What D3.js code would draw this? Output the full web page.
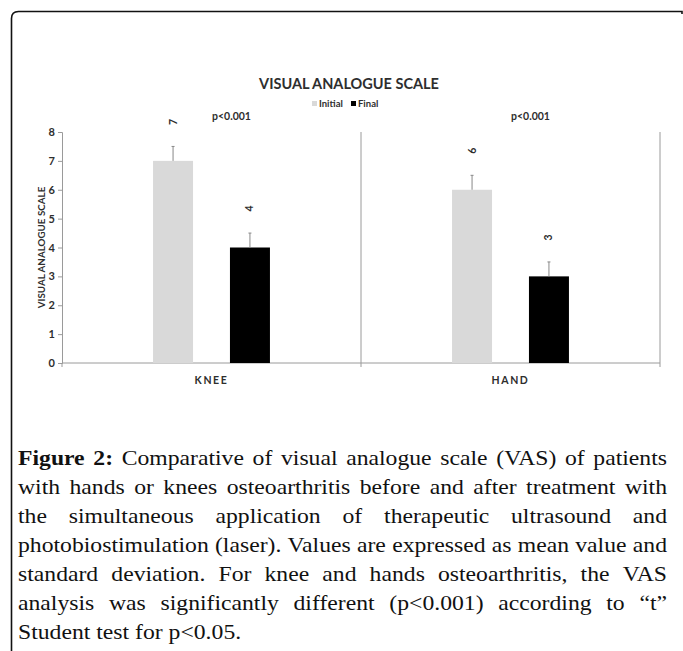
<!DOCTYPE html>
<html>
<head>
<meta charset="utf-8">
<script src="https://cdn.jsdelivr.net/npm/d3@7"></script>
<style>
  html, body { margin: 0; padding: 0; background: #fff; }
  svg { display: block; }
</style>
</head>
<body>
<svg id="chart" width="683" height="651"></svg>
<script>
// ---- data ----
const categories = ["KNEE", "HAND"];
const series = ["Initial", "Final"];
const initialValues = [7, 6];
const finalValues = [4, 3];
const initialSD = [0.5, 0.5];
const finalSD = [0.5, 0.5];
const yTicks = [0, 1, 2, 3, 4, 5, 6, 7, 8];
const pLabels = ["p<0.001", "p<0.001"];
const chartTitle = "VISUAL ANALOGUE SCALE";
const yTitle = "VISUAL ANALOGUE SCALE";
const captionLines = [
  "Comparative of visual analogue scale (VAS) of patients",
  "with hands or knees osteoarthritis before and after treatment with",
  "the simultaneous application of therapeutic ultrasound and",
  "photobiostimulation (laser). Values are expressed as mean value and",
  "standard deviation. For knee and hands osteoarthritis, the VAS",
  "analysis was significantly different (p<0.001) according to \u201ct\u201d",
  "Student test for p<0.05."
];

const svg = d3.select("#chart");
const sansFont = "Lato, 'Open Sans', sans-serif";
const textCol = "#2e2e2e";
const axisCol = "#9a9a9a";

// frame
svg.append("path")
  .attr("d", "M11.5,651 V18.5 Q11.5,11.5 18.5,11.5 H682 V14")
  .attr("fill", "none").attr("stroke", "#111").attr("stroke-width", 1.6);

// scales
const y = d3.scaleLinear().domain([0, 8]).range([363, 132]);
const x = d3.scaleBand().domain(categories).range([62, 660]);
const inner = d3.scaleBand().domain(series).range([0, x.bandwidth()])
  .paddingInner(0.48).paddingOuter(1.184);
const colors = d3.scaleOrdinal().domain(series).range(["#d9d9d9", "#000000"]);

const rows = [];
categories.forEach((c, i) => {
  rows.push({cat: c, s: "Initial", v: initialValues[i], sd: initialSD[i]});
  rows.push({cat: c, s: "Final", v: finalValues[i], sd: finalSD[i]});
});

// title
svg.append("text").attr("x", 349).attr("y", 89).attr("text-anchor", "middle")
  .attr("font-family", sansFont).attr("font-weight", "bold").attr("font-size", 14.5)
  .attr("fill", textCol).text(chartTitle);

// legend
const legend = svg.append("g").attr("font-family", sansFont).attr("font-size", 9.5)
  .attr("font-weight", "bold").attr("fill", textCol);
const legItems = [{s: "Initial", x: 312}, {s: "Final", x: 351}];
legItems.forEach(d => {
  legend.append("rect").attr("x", d.x).attr("y", 101).attr("width", 5).attr("height", 5)
    .attr("fill", colors(d.s));
  legend.append("text").attr("x", d.x + 7).attr("y", 107).text(d.s);
});

// y axis
const yAxisG = svg.append("g").attr("transform", "translate(62,0)")
  .call(d3.axisLeft(y).tickValues(yTicks).tickSize(4).tickPadding(3).tickFormat(d3.format("d")));
yAxisG.select(".domain").attr("stroke", axisCol);
yAxisG.selectAll(".tick line").attr("stroke", axisCol);
yAxisG.selectAll(".tick text").attr("font-family", sansFont).attr("font-weight", "bold")
  .attr("font-size", 11).attr("fill", textCol);

// y title
svg.append("text").attr("transform", `translate(45,${(y(0) + y(8)) / 2}) rotate(-90)`)
  .attr("text-anchor", "middle").attr("font-family", sansFont).attr("font-weight", "bold")
  .attr("font-size", 9.8).attr("fill", textCol).text(yTitle);

// x axis
const xAxisG = svg.append("g").attr("transform", `translate(0,${y(0)})`);
xAxisG.append("line").attr("x1", 62).attr("x2", 660).attr("stroke", axisCol);
const boundaries = [62].concat(categories.map(c => x(c) + x.bandwidth()));
boundaries.forEach((b, i) => {
  xAxisG.append("line").attr("x1", b).attr("x2", b).attr("y1", 0).attr("y2", 4).attr("stroke", axisCol);
  if (i > 0) {
    svg.append("line").attr("x1", b).attr("x2", b).attr("y1", y(8)).attr("y2", y(0))
      .attr("stroke", axisCol);
  }
});
categories.forEach(c => {
  svg.append("text").attr("x", x(c) + x.bandwidth() / 2).attr("y", 384)
    .attr("text-anchor", "middle").attr("font-family", sansFont).attr("font-weight", "bold")
    .attr("font-size", 10.5).attr("letter-spacing", 1.6).attr("fill", textCol).text(c);
});

// bars
svg.append("g").selectAll("rect").data(rows).join("rect")
  .attr("x", d => x(d.cat) + inner(d.s))
  .attr("y", d => y(d.v))
  .attr("width", inner.bandwidth())
  .attr("height", d => y(0) - y(d.v))
  .attr("fill", d => colors(d.s));

// error bars (upper only)
const eb = svg.append("g").attr("stroke", "#888").attr("stroke-width", 1);
rows.forEach(d => {
  const cx = x(d.cat) + inner(d.s) + inner.bandwidth() / 2;
  eb.append("line").attr("x1", cx).attr("x2", cx).attr("y1", y(d.v)).attr("y2", y(d.v + d.sd));
  eb.append("line").attr("x1", cx - 1.5).attr("x2", cx + 1.5).attr("y1", y(d.v + d.sd)).attr("y2", y(d.v + d.sd));
});

// value labels (rotated)
rows.forEach(d => {
  const cx = x(d.cat) + inner(d.s) + inner.bandwidth() / 2;
  svg.append("text").attr("transform", `translate(${cx + 3.5},${y(d.v) - 39}) rotate(-90)`)
    .attr("text-anchor", "middle").attr("font-family", sansFont).attr("font-weight", "bold")
    .attr("font-size", 10.5).attr("fill", textCol).text(d3.format("d")(d.v));
});

// p labels
categories.forEach((c, i) => {
  svg.append("text").attr("x", x(c) + x.bandwidth() / 2 + 20).attr("y", 120)
    .attr("text-anchor", "middle").attr("font-family", sansFont).attr("font-weight", "bold")
    .attr("font-size", 10.5).attr("fill", textCol).text(pLabels[i]);
});

// caption, justified
const capFont = "'Liberation Serif', 'Times New Roman', serif";
const capSize = 21;
const capLeft = 18, capRight = 667, capTop = 465, lineH = 29;
const capOuter = svg.append("g").attr("font-family", capFont).attr("font-size", capSize).attr("fill", "#111");
// measure natural width of the tightest line to get a horizontal stretch matching the original face
const probe = capOuter.append("text").attr("xml:space", "preserve").text(captionLines[3]);
const natural = probe.node().getComputedTextLength();
probe.remove();
const sx = Math.max(1, (capRight - capLeft - 3) / natural);
const cap = capOuter.append("g").attr("transform", `translate(${capLeft},0) scale(${sx},1)`);
const avail = (capRight - capLeft) / sx;
captionLines.forEach((line, li) => {
  const words = line.split(" ").map(w => ({t: w, b: false}));
  if (li === 0) words.unshift({t: "Figure", b: true}, {t: "2:", b: true});
  const yy = capTop + li * lineH;
  const nodes = words.map(w => {
    const t = cap.append("text").attr("y", yy).attr("font-weight", w.b ? "bold" : "normal").text(w.t);
    return {node: t, w: t.node().getComputedTextLength()};
  });
  const total = d3.sum(nodes, n => n.w);
  const spaceNatural = capSize * 0.25;
  const last = li === captionLines.length - 1;
  const gap = last ? spaceNatural : (avail - total) / (nodes.length - 1);
  let cx = 0;
  nodes.forEach(n => { n.node.attr("x", cx); cx += n.w + gap; });
});
</script>
</body>
</html>
